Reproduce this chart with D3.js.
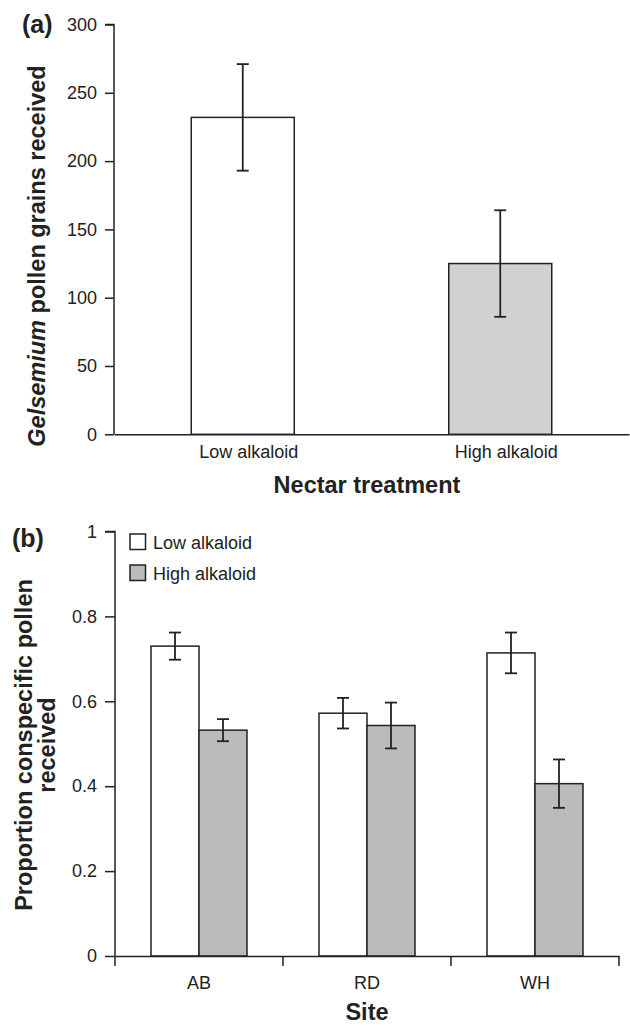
<!DOCTYPE html>
<html>
<head>
<meta charset="utf-8">
<script src="https://cdn.jsdelivr.net/npm/d3@7"></script>
<style>
  html, body { margin: 0; padding: 0; background: #fff; }
  svg { display: block; font-family: "Liberation Sans", Arial, Helvetica, sans-serif; }
</style>
</head>
<body>
<svg id="chart" width="630" height="1026"></svg>
<script>
// ---- Panel (a) data ----
const treatments = ["Low alkaloid", "High alkaloid"];
const pollenMeans = [232, 125];
const pollenErrors = [39, 39];
const pollenTicks = [0, 50, 100, 150, 200, 250, 300];

// ---- Panel (b) data ----
const sites = ["AB", "RD", "WH"];
const seriesNames = ["Low alkaloid", "High alkaloid"];
const lowMeans = [0.730, 0.572, 0.714];
const lowErrors = [0.032, 0.036, 0.048];
const highMeans = [0.532, 0.543, 0.406];
const highErrors = [0.026, 0.054, 0.057];
const propTicks = [0, 0.2, 0.4, 0.6, 0.8, 1];

const ink = "#222";
const svg = d3.select("#chart");

// ================= Panel (a) =================
const ga = svg.append("g");
const xa = d3.scaleBand().domain(treatments).range([114, 629]).paddingInner(0.6).paddingOuter(0.3);
const ya = d3.scaleLinear().domain([0, 300]).range([434.3, 24.5]);
const fillA = ["#ffffff", "#d0d2d2"];

const dataA = treatments.map((t, i) => ({ t, v: pollenMeans[i], e: pollenErrors[i], i }));

ga.selectAll("rect.bar").data(dataA).enter().append("rect")
  .attr("x", d => xa(d.t)).attr("width", xa.bandwidth())
  .attr("y", d => ya(d.v)).attr("height", d => ya(0) - ya(d.v))
  .attr("fill", d => fillA[d.i]).attr("stroke", ink).attr("stroke-width", 1.5);

const errA = ga.selectAll("g.err").data(dataA).enter().append("g").attr("stroke", ink).attr("stroke-width", 1.8);
errA.append("line").attr("x1", d => xa(d.t) + xa.bandwidth() / 2).attr("x2", d => xa(d.t) + xa.bandwidth() / 2)
  .attr("y1", d => ya(d.v + d.e)).attr("y2", d => ya(d.v - d.e));
errA.append("line").attr("x1", d => xa(d.t) + xa.bandwidth() / 2 - 6).attr("x2", d => xa(d.t) + xa.bandwidth() / 2 + 6)
  .attr("y1", d => ya(d.v + d.e)).attr("y2", d => ya(d.v + d.e));
errA.append("line").attr("x1", d => xa(d.t) + xa.bandwidth() / 2 - 6).attr("x2", d => xa(d.t) + xa.bandwidth() / 2 + 6)
  .attr("y1", d => ya(d.v - d.e)).attr("y2", d => ya(d.v - d.e));

// y axis
const yAxisA = ga.append("g").attr("transform", "translate(114,0)")
  .call(d3.axisLeft(ya).tickValues(pollenTicks).tickSize(9).tickPadding(8).tickFormat(d3.format("d")));
yAxisA.select(".domain").attr("stroke", ink).attr("stroke-width", 1.5).attr("d", `M-9,${ya(300)}H0V${ya(0)}`);
yAxisA.selectAll(".tick line").attr("stroke", ink).attr("stroke-width", 1.5);
yAxisA.selectAll(".tick text").attr("fill", ink).attr("font-size", 18).attr("font-family", "Liberation Sans, Arial, sans-serif");

// x axis
const xAxisA = ga.append("g").attr("transform", `translate(0,${ya(0)})`)
  .call(d3.axisBottom(xa).tickSize(0).tickPadding(11));
xAxisA.select(".domain").attr("stroke", ink).attr("stroke-width", 1.5);
xAxisA.selectAll(".tick text").attr("fill", ink).attr("font-size", 18).attr("dx", 6)
  .attr("font-family", "Liberation Sans, Arial, sans-serif");

ga.append("text").attr("x", 367).attr("y", 493).attr("text-anchor", "middle")
  .attr("font-size", 23.5).attr("font-weight", "bold").attr("fill", ink).text("Nectar treatment");

const ylabA = ga.append("text").attr("transform", "translate(45,256) rotate(-90)")
  .attr("text-anchor", "middle").attr("font-size", 23.5).attr("font-weight", "bold").attr("fill", ink);
ylabA.append("tspan").attr("font-style", "italic").text("Gelsemium");
ylabA.append("tspan").text(" pollen grains received");

ga.append("text").attr("x", 22).attr("y", 33).attr("font-size", 25).attr("font-weight", "bold").attr("fill", ink).text("(a)");

// ================= Panel (b) =================
const gb = svg.append("g");
const xb = d3.scaleBand().domain(sites).range([115, 619]).paddingInner(3 / 7).paddingOuter(1.5 / 7);
const xb1 = d3.scaleBand().domain(seriesNames).range([0, xb.bandwidth()]);
const yb = d3.scaleLinear().domain([0, 1]).range([956, 531.5]);
const fillB = { "Low alkaloid": "#ffffff", "High alkaloid": "#bbbbbb" };

const dataB = [];
sites.forEach((s, i) => {
  dataB.push({ s, k: "Low alkaloid", v: lowMeans[i], e: lowErrors[i] });
  dataB.push({ s, k: "High alkaloid", v: highMeans[i], e: highErrors[i] });
});
const cx = d => xb(d.s) + xb1(d.k) + xb1.bandwidth() / 2;

gb.selectAll("rect.bar").data(dataB).enter().append("rect")
  .attr("x", d => xb(d.s) + xb1(d.k)).attr("width", xb1.bandwidth())
  .attr("y", d => yb(d.v)).attr("height", d => yb(0) - yb(d.v))
  .attr("fill", d => fillB[d.k]).attr("stroke", ink).attr("stroke-width", 1.5);

const errB = gb.selectAll("g.err").data(dataB).enter().append("g").attr("stroke", ink).attr("stroke-width", 1.8);
errB.append("line").attr("x1", cx).attr("x2", cx).attr("y1", d => yb(d.v + d.e)).attr("y2", d => yb(d.v - d.e));
errB.append("line").attr("x1", d => cx(d) - 6).attr("x2", d => cx(d) + 6).attr("y1", d => yb(d.v + d.e)).attr("y2", d => yb(d.v + d.e));
errB.append("line").attr("x1", d => cx(d) - 6).attr("x2", d => cx(d) + 6).attr("y1", d => yb(d.v - d.e)).attr("y2", d => yb(d.v - d.e));

const yAxisB = gb.append("g").attr("transform", "translate(115,0)")
  .call(d3.axisLeft(yb).tickValues(propTicks).tickSize(10).tickPadding(8).tickFormat(d => d3.format("~g")(d)));
yAxisB.select(".domain").attr("stroke", ink).attr("stroke-width", 1.5).attr("d", `M-10,${yb(1)}H0V${yb(0)}`);
yAxisB.selectAll(".tick line").attr("stroke", ink).attr("stroke-width", 1.5);
yAxisB.selectAll(".tick text").attr("fill", ink).attr("font-size", 18).attr("font-family", "Liberation Sans, Arial, sans-serif");

const xAxisB = gb.append("g").attr("transform", `translate(0,${yb(0)})`)
  .call(d3.axisBottom(xb).tickSize(0).tickPadding(20));
xAxisB.select(".domain").attr("stroke", ink).attr("stroke-width", 1.5);
xAxisB.selectAll(".tick text").attr("fill", ink).attr("font-size", 18).attr("font-family", "Liberation Sans, Arial, sans-serif");
// boundary ticks between sites
const r0 = xb.range()[0];
const bounds = d3.range(sites.length + 1).map(i => r0 + i * xb.step());
xAxisB.selectAll("line.bound").data(bounds).enter().append("line")
  .attr("x1", d => d).attr("x2", d => d).attr("y1", 0).attr("y2", 10)
  .attr("stroke", ink).attr("stroke-width", 1.5);

gb.append("text").attr("x", 367).attr("y", 1020).attr("text-anchor", "middle")
  .attr("font-size", 23.5).attr("font-weight", "bold").attr("fill", ink).text("Site");

const ylabB = gb.append("text").attr("transform", "translate(32,745) rotate(-90)")
  .attr("text-anchor", "middle").attr("font-size", 23.5).attr("font-weight", "bold").attr("fill", ink);
ylabB.append("tspan").attr("x", 0).attr("y", 0).text("Proportion conspecific pollen");
ylabB.append("tspan").attr("x", 0).attr("y", 23).text("received");

gb.append("text").attr("x", 12).attr("y", 547).attr("font-size", 25).attr("font-weight", "bold").attr("fill", ink).text("(b)");

// legend
const leg = gb.append("g");
seriesNames.forEach((n, i) => {
  const gy = 534 + i * 31;
  leg.append("rect").attr("x", 130).attr("y", gy).attr("width", 15.5).attr("height", 15.5)
    .attr("fill", fillB[n]).attr("stroke", ink).attr("stroke-width", 1.5);
  leg.append("text").attr("x", 153).attr("y", gy + 15.3).attr("font-size", 18).attr("fill", ink).text(n);
});
</script>
</body>
</html>
